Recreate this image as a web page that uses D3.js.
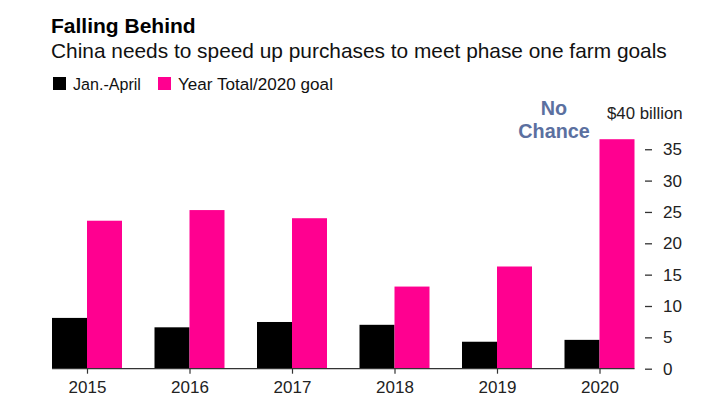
<!DOCTYPE html>
<html><head><meta charset="utf-8">
<script src="https://cdn.jsdelivr.net/npm/d3@7"></script>
<style>
body{margin:0;background:#fff;}
svg{font-family:"Liberation Sans",Arial,Helvetica,sans-serif;}
</style></head>
<body><svg id="c" width="720" height="405"></svg>
<script>
const years = ["2015","2016","2017","2018","2019","2020"];
const janApril = [8.1, 6.6, 7.45, 7.0, 4.3, 4.6];
const yearTotal = [23.6, 25.3, 24.0, 13.1, 16.3, 36.6];
const seriesNames = ["Jan.-April", "Year Total/2020 goal"];
const yTicks = [0,5,10,15,20,25,30,35];
const colors = ["#000000", "#ff0090"];

const svg = d3.select("#c");
const y = d3.scaleLinear().domain([0,40]).range([368.7, 117.9]);
const x = d3.scalePoint().domain(years).range([87, 599.5]);
const inner = d3.scaleBand().domain([0,1]).range([-35,35]);

function fitWidth(sel, target){
  const n = sel.node();
  const fs = parseFloat(sel.attr("font-size"));
  const w = n.getComputedTextLength();
  if (w > 0) sel.attr("font-size", fs*target/w);
}

// title
svg.append("text").attr("x",51).attr("y",33).attr("font-size",21).attr("font-weight","bold").attr("fill","#000").text("Falling Behind");
const sub = svg.append("text").attr("x",51).attr("y",58).attr("font-size",19).attr("fill","#111").text("China needs to speed up purchases to meet phase one farm goals");
fitWidth(sub, 616);

// legend
const legX = [53, 158];
const legW = [68, 155];
seriesNames.forEach((n,i)=>{
  svg.append("rect").attr("x",legX[i]).attr("y",77).attr("width",13).attr("height",13).attr("fill",colors[i]);
  const t = svg.append("text").attr("x",legX[i]+20).attr("y",90).attr("font-size",15).attr("fill","#111").text(n);
  fitWidth(t, legW[i]);
});

// bars
const data = years.map((yr,i)=>({yr, vals:[janApril[i], yearTotal[i]]}));
const g = svg.append("g");
data.forEach(d=>{
  d.vals.forEach((v,k)=>{
    g.append("rect")
      .attr("x", x(d.yr)+inner(k))
      .attr("y", y(v))
      .attr("width", inner.bandwidth())
      .attr("height", y(0)-y(v))
      .attr("fill", colors[k]);
  });
});

// baseline
svg.append("line").attr("x1", x(years[0])+inner(0)).attr("x2", x(years[years.length-1])+35)
  .attr("y1", y(0)).attr("y2", y(0)).attr("stroke","#333").attr("stroke-width",1.2);

// x axis
const xa = svg.append("g").attr("transform",`translate(0,${y(0)})`)
  .call(d3.axisBottom(x).tickSize(5).tickPadding(7));
xa.select(".domain").remove();
xa.selectAll(".tick line").attr("stroke","#333").attr("stroke-width",1.2);
xa.selectAll(".tick text").attr("font-size",17).attr("fill","#222").attr("font-family","Liberation Sans, Arial, sans-serif");

// y axis
const ya = svg.append("g").attr("transform","translate(645,0)")
  .call(d3.axisRight(y).tickValues(yTicks).tickSize(7).tickPadding(11));
ya.select(".domain").remove();
ya.selectAll(".tick line").attr("stroke","#333").attr("stroke-width",1.3);
ya.selectAll(".tick text").attr("font-size",17).attr("fill","#222").attr("font-family","Liberation Sans, Arial, sans-serif");

svg.append("text").attr("x",607).attr("y",y(40)+1.5).attr("font-size",16.8).attr("fill","#222").text("$40 billion");

// annotation
const ann = svg.append("text").attr("text-anchor","middle").attr("font-size",19.8).attr("font-weight","bold").attr("fill","#5b70a0");
ann.append("tspan").attr("x",554).attr("y",115).text("No");
ann.append("tspan").attr("x",554).attr("y",138).text("Chance");
</script></body></html>
